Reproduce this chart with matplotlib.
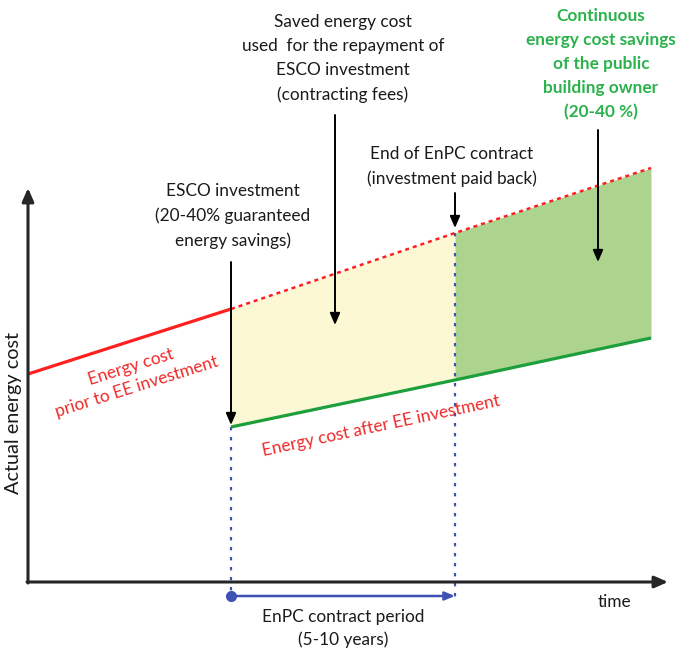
import numpy as np
import matplotlib.pyplot as plt

plt.rcParams['font.family'] = ['Lato', 'DejaVu Sans']

# conceptual data (time units / cost units, origin at the axis corner)
t_points = [0, 203, 427, 623]           # start, ESCO investment, end of contract, horizon
cost_before = [208, 273, 349, 414]       # energy cost without EE investment
t_after = [203, 427, 623]
cost_after = [155, 202, 244]             # energy cost after EE investment

RED = '#ff1f1f'
RED_TXT = '#ee2a2a'
GREEN = '#1d9f3c'
GREEN_TXT = '#2bb24c'
BLUE = '#3f52b4'

fig = plt.figure(figsize=(6.75, 6.52), dpi=100)
ax = fig.add_axes([0, 0, 1, 1])
ax.set_xlim(-28, 647)
ax.set_ylim(-70, 582)
ax.axis('off')

# filled areas
t_yel = np.array(t_points[1:3])
ax.fill_between(t_yel, np.interp(t_yel, t_points, cost_before),
                np.interp(t_yel, t_after, cost_after), color='#fbf8d3', lw=0, zorder=1)
t_grn = np.array(t_points[2:4])
ax.fill_between(t_grn, np.interp(t_grn, t_points, cost_before),
                np.interp(t_grn, t_after, cost_after), color='#acd48f', lw=0, zorder=1)

# energy cost lines
ax.plot(t_points[:2], cost_before[:2], color=RED, lw=2.3, zorder=3, solid_capstyle='butt')
ax.plot(t_points[1:], cost_before[1:], color=RED, lw=1.8, ls=(0, (1.6, 1.6)), zorder=3)
ax.plot(t_after, cost_after, color=GREEN, lw=2.3, zorder=3, solid_capstyle='butt')

# vertical dotted markers
ax.plot([t_points[1], t_points[1]], [cost_after[0], -18], color=BLUE, lw=1.6,
        ls=(0, (1.5, 3)), zorder=2)
ax.plot([t_points[2], t_points[2]], [cost_before[2], -18], color=BLUE, lw=1.6,
        ls=(0, (1.5, 3)), zorder=2)

# axes arrows
ax.annotate('', xy=(0, 394), xytext=(0, -1),
            arrowprops=dict(arrowstyle='-|>,head_length=0.8,head_width=0.35',
                            color='#262626', lw=2.2, shrinkA=0, shrinkB=0))
ax.annotate('', xy=(640, 0), xytext=(-1, 0),
            arrowprops=dict(arrowstyle='-|>,head_length=0.8,head_width=0.35',
                            color='#262626', lw=2.2, shrinkA=0, shrinkB=0))

# contract period arrow
ax.annotate('', xy=(t_points[2], -14), xytext=(t_points[1], -14),
            arrowprops=dict(arrowstyle='-|>,head_length=0.6,head_width=0.25',
                            color=BLUE, lw=1.8, shrinkA=0, shrinkB=0))
ax.plot(t_points[1], -14, 'o', color=BLUE, ms=7, zorder=4)

# black annotation arrows
arrow = dict(arrowstyle='-|>,head_length=0.7,head_width=0.3', color='black', lw=1.4,
             shrinkA=0, shrinkB=0)
ax.annotate('', xy=(t_points[1], cost_after[0] + 2), xytext=(t_points[1], 320), arrowprops=arrow)
ax.annotate('', xy=(t_points[2], cost_before[2] + 5), xytext=(t_points[2], 389), arrowprops=arrow)
ax.annotate('', xy=(307, 257), xytext=(307, 467), arrowprops=arrow)
ax.annotate('', xy=(570, 320), xytext=(570, 452), arrowprops=arrow)

fs = 12.4
ls = 1.62
ax.text(315, 568, 'Saved energy cost\nused  for the repayment of\nESCO investment\n(contracting fees)',
        ha='center', va='top', fontsize=fs, linespacing=ls, color='#1a1a1a')
ax.text(573, 574, 'Continuous\nenergy cost savings\nof the public\nbuilding owner\n(20-40 %)',
        ha='center', va='top', fontsize=fs, linespacing=ls, color=GREEN_TXT, fontweight='bold')
ax.text(424, 436, 'End of EnPC contract\n(investment paid back)',
        ha='center', va='top', fontsize=fs, linespacing=ls, color='#1a1a1a')
ax.text(205, 399, 'ESCO investment\n(20-40% guaranteed\nenergy savings)',
        ha='center', va='top', fontsize=fs, linespacing=ls, color='#1a1a1a')
ax.text(106, 205, 'Energy cost\nprior to EE investment', ha='center', va='center',
        fontsize=fs, linespacing=1.35, color=RED_TXT, rotation=17.5, rotation_mode='anchor')
ax.text(353, 156, 'Energy cost after EE investment', ha='center', va='center',
        fontsize=fs, color=RED_TXT, rotation=12, rotation_mode='anchor')
ax.text(-14, 169, 'Actual energy cost', ha='center', va='center', fontsize=14.3,
        rotation=90, color='#1a1a1a')
ax.text(570, -20, 'time', ha='left', va='center', fontsize=fs, color='#1a1a1a')
ax.text(315, -27, 'EnPC contract period\n(5-10 years)', ha='center', va='top',
        fontsize=fs, linespacing=1.5, color='#1a1a1a')

fig.savefig('out.png', dpi=100)
